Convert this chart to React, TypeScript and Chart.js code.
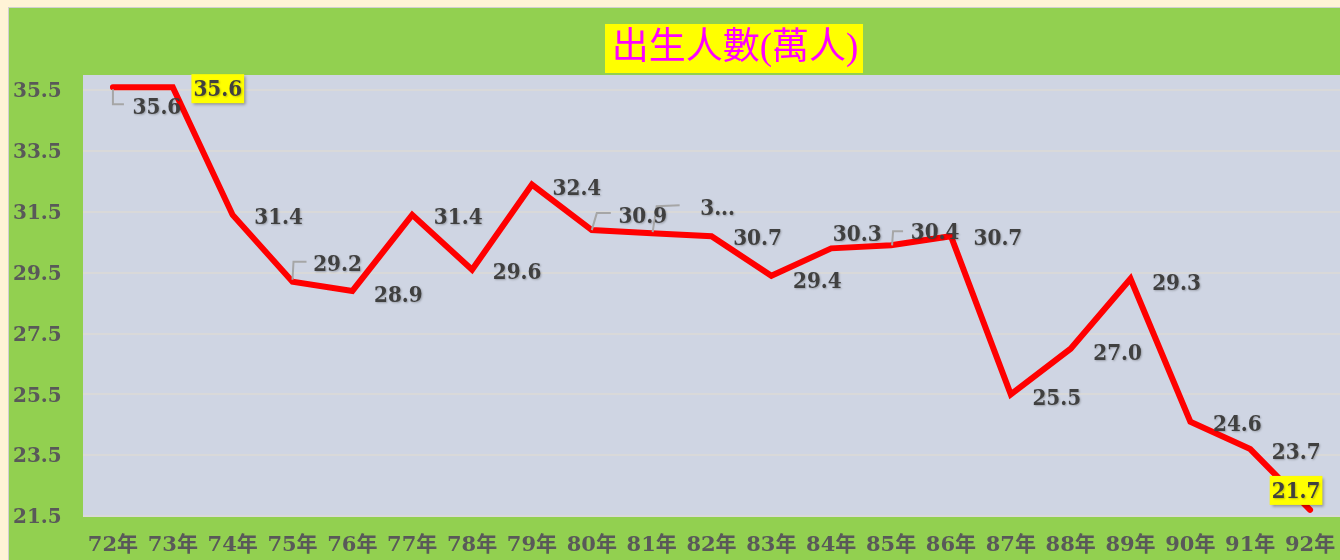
import React, { useEffect, useRef } from "react";
import { Chart, registerables } from "chart.js";

Chart.register(...registerables);

const TITLE = "出生人數(萬人)";
const categories = ["72年", "73年", "74年", "75年", "76年", "77年", "78年", "79年", "80年", "81年", "82年", "83年", "84年", "85年", "86年", "87年", "88年", "89年", "90年", "91年", "92年"];
const births = [35.6, 35.6, 31.4, 29.2, 28.9, 31.4, 29.6, 32.4, 30.9, 30.8, 30.7, 29.4, 30.3, 30.4, 30.7, 25.5, 27.0, 29.3, 24.6, 23.7, 21.7];
const pointLabels = ["35.6", "35.6", "31.4", "29.2", "28.9", "31.4", "29.6", "32.4", "30.9", "3...", "30.7", "29.4", "30.3", "30.4", "30.7", "25.5", "27.0", "29.3", "24.6", "23.7", "21.7"];
const yTicks = [21.5, 23.5, 25.5, 27.5, 29.5, 31.5, 33.5, 35.5];

// label placement relative to the point (dx, dy), highlight flag, leader line
const labelOffsets: [number, number][] = [
  [44, 19], [45, 1], [46, 1], [45, -19], [46, 3], [46, 1], [45, 2], [45, 3], [51, -15], [66, -26],
  [46, 1], [46, 4], [26, -15], [44, -14], [47, 1], [46, 3], [47, 3], [46, 3], [47, 1], [46, 2], [-14, -20],
];
const highlighted = [1, 20];
const leaders: Record<number, [number, number][]> = {
  0: [[0, 2], [0, 17], [11, 17]],
  3: [[0, -2], [1, -20], [14, -20]],
  8: [[0, 0], [5, -17], [19, -17]],
  9: [[1, -1], [5, -27], [28, -28]],
  13: [[1, 0], [2, -14], [12, -14]],
};

const LABEL_FONT = 'bold 20px "DejaVu Serif", "Noto Sans CJK TC", serif';

const decorPlugin = {
  id: "decor",
  beforeDraw(chart: any) {
    const { ctx, chartArea } = chart;
    ctx.save();
    ctx.fillStyle = "#CFD5E3";
    ctx.fillRect(chartArea.left, chartArea.top, chartArea.right - chartArea.left, chartArea.bottom - chartArea.top);
    // title
    ctx.fillStyle = "#FFFF00";
    ctx.fillRect(596, 16, 258, 49);
    ctx.fillStyle = "#FF00FF";
    ctx.font = '37px "Liberation Serif", "Noto Sans CJK TC", serif';
    ctx.textAlign = "center";
    ctx.textBaseline = "middle";
    ctx.fillText(TITLE, 726, 41);
    ctx.restore();
  },
  afterDatasetsDraw(chart: any) {
    const { ctx } = chart;
    const meta = chart.getDatasetMeta(0);
    ctx.save();
    // leaders
    ctx.strokeStyle = "#A6A6A6";
    ctx.lineWidth = 2;
    Object.keys(leaders).forEach((k) => {
      const i = Number(k);
      const p = meta.data[i];
      const pts = leaders[i];
      ctx.beginPath();
      pts.forEach(([dx, dy], j) => {
        if (j === 0) ctx.moveTo(p.x + dx, p.y + dy);
        else ctx.lineTo(p.x + dx, p.y + dy);
      });
      ctx.stroke();
    });
    ctx.font = LABEL_FONT;
    ctx.textAlign = "center";
    ctx.textBaseline = "middle";
    meta.data.forEach((p: any, i: number) => {
      const [dx, dy] = labelOffsets[i];
      const x = p.x + dx;
      const y = p.y + dy;
      const text = pointLabels[i];
      if (highlighted.includes(i)) {
        const w = ctx.measureText(text).width + 4;
        ctx.save();
        ctx.shadowColor = "rgba(0,0,0,0.35)";
        ctx.shadowOffsetX = 2;
        ctx.shadowOffsetY = 2;
        ctx.shadowBlur = 3;
        ctx.fillStyle = "#FFFF00";
        ctx.fillRect(x - w / 2, y - 14, w, 29);
        ctx.restore();
      }
      ctx.save();
      ctx.shadowColor = "rgba(0,0,0,0.25)";
      ctx.shadowOffsetX = 1;
      ctx.shadowOffsetY = 1;
      ctx.shadowBlur = 2;
      ctx.fillStyle = "#404040";
      ctx.translate(x, y + 2);
      ctx.scale(1, 1.12);
      ctx.fillText(text, 0, 0);
      ctx.restore();
    });
    ctx.restore();
  },
};

export default function App() {
  const ref = useRef<HTMLCanvasElement>(null);
  useEffect(() => {
    if (!ref.current) return;
    const chart = new Chart(ref.current, {
      type: "line",
      data: {
        labels: categories,
        datasets: [
          {
            label: TITLE,
            data: births,
            borderColor: "#FF0000",
            borderWidth: 6,
            pointRadius: 0,
            tension: 0,
            borderCapStyle: "round",
            fill: false,
          },
        ],
      },
      options: {
        animation: false,
        responsive: false,
        maintainAspectRatio: false,
        layout: { autoPadding: false, padding: { top: 67, left: 4, right: 0, bottom: 0 } },
        plugins: { legend: { display: false }, title: { display: false }, tooltip: { enabled: false } },
        scales: {
          x: {
            type: "category",
            offset: true,
            grid: { display: false, drawTicks: false },
            border: { display: false },
            ticks: {
              color: "#595959",
              font: { family: '"DejaVu Serif", "Noto Sans CJK TC", serif', size: 21, weight: "bold" },
              padding: 17,
              maxRotation: 0,
              autoSkip: false,
            },
            afterFit: (s: any) => {
              s.height = 44;
              s.paddingRight = 0;
              s.paddingLeft = 0;
            },
          },
          y: {
            min: 21.5,
            max: 36,
            afterBuildTicks: (s: any) => {
              s.ticks = yTicks.map((v) => ({ value: v }));
            },
            afterFit: (s: any) => {
              s.width = 70;
            },
            grid: { color: "#D9D9D9", lineWidth: 2, drawTicks: false },
            border: { display: false },
            ticks: {
              color: "#595959",
              crossAlign: "far",
              padding: 0,
              labelOffset: 2,
              font: { family: '"DejaVu Serif", serif', size: 20, weight: "bold" },
              callback: (v: any) => Number(v).toFixed(1),
            },
          },
        },
      },
      plugins: [decorPlugin],
    } as any);
    return () => chart.destroy();
  }, []);

  return (
    <div style={{ position: "absolute", left: 0, top: 0, width: 1340, height: 560, background: "#FFF3D6", overflow: "hidden" }}>
      <div
        style={{
          position: "absolute",
          left: 8,
          top: 7,
          width: 1332,
          height: 553,
          background: "#92D050",
          borderLeft: "1px solid #D0D0D0",
          borderTop: "1px solid #D0D0D0",
        }}
      >
        <canvas ref={ref} width={1331} height={552} style={{ display: "block", width: 1331, height: 552 }} />
      </div>
    </div>
  );
}
